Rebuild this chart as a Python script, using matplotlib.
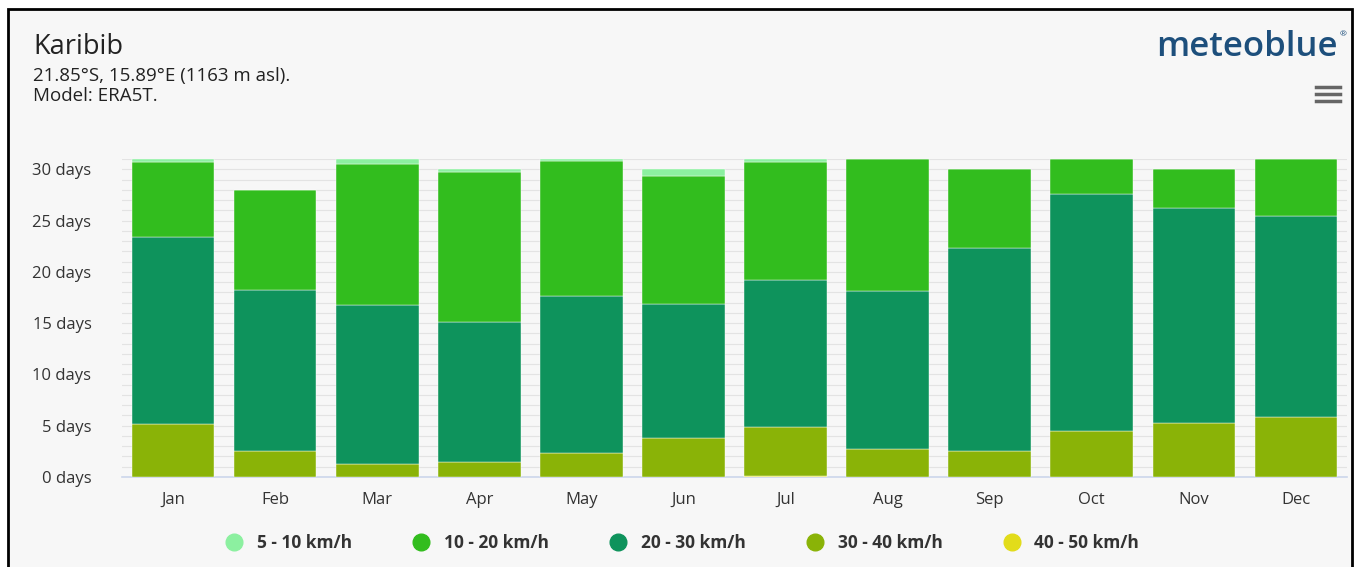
import numpy as np
import matplotlib.pyplot as plt
from matplotlib.patches import Rectangle
from matplotlib.lines import Line2D

plt.rcParams['font.family'] = ['Open Sans', 'DejaVu Sans']

months = ["Jan", "Feb", "Mar", "Apr", "May", "Jun",
          "Jul", "Aug", "Sep", "Oct", "Nov", "Dec"]

# days per month in each wind speed class (stacked bottom -> top)
kmh_40_50 = [0.0, 0.0, 0.0, 0.0, 0.0, 0.0, 0.1, 0.0, 0.0, 0.0, 0.0, 0.0]
kmh_30_40 = [5.2, 2.5, 1.25, 1.45, 2.3, 3.8, 4.8, 2.7, 2.5, 4.5, 5.25, 5.85]
kmh_20_30 = [18.2, 15.7, 15.5, 13.65, 15.3, 13.05, 14.3, 15.4, 19.8, 23.05, 20.95, 19.55]
kmh_10_20 = [7.3, 9.8, 13.75, 14.6, 13.2, 12.5, 11.5, 12.9, 7.7, 3.45, 3.8, 5.6]
kmh_5_10 = [0.3, 0.0, 0.5, 0.3, 0.2, 0.65, 0.3, 0.0, 0.0, 0.0, 0.0, 0.0]

series = [
    ("40 - 50 km/h", kmh_40_50, "#e2dc1a"),
    ("30 - 40 km/h", kmh_30_40, "#8ab307"),
    ("20 - 30 km/h", kmh_20_30, "#0e935c"),
    ("10 - 20 km/h", kmh_10_20, "#32bd1e"),
    ("5 - 10 km/h", kmh_5_10, "#8cf0a0"),
]

bg = "#f7f7f7"
fig = plt.figure(figsize=(13.56, 5.67), dpi=100, facecolor="white")
fig.patches.append(Rectangle((8 / 1356, -0.01), 1344 / 1356, 1 - 9 / 567 + 0.01,
                             transform=fig.transFigure, facecolor=bg,
                             edgecolor="black", linewidth=2, zorder=-10))

ax = fig.add_axes([122 / 1356, 1 - 477 / 567, (1347 - 122) / 1356, (477 - 159) / 567])
ax.set_facecolor(bg)
ax.patch.set_alpha(0)

x = np.arange(len(months))
bottom = np.zeros(len(months))
for label, vals, color in series:
    ax.bar(x, vals, bottom=bottom, width=0.81, color=color, edgecolor="white",
           linewidth=0.3, zorder=3)
    bottom += np.array(vals)

ax.set_xlim(-0.5, len(months) - 0.5)
ax.set_ylim(0, 31)
ax.set_yticks(range(0, 31, 5))
ax.set_yticklabels([f"{v} days" for v in range(0, 31, 5)])
ax.set_yticks(range(0, 32), minor=True)
ax.grid(axis="y", which="both", color="#e3e3e3", linewidth=0.8, zorder=0)
ax.set_xticks(x)
ax.set_xticklabels(months)
ax.tick_params(axis="both", which="both", length=0, labelsize=12, colors="#333333")
ax.tick_params(axis="x", pad=11)
ax.tick_params(axis="y", pad=22)
for s in ["top", "right", "left"]:
    ax.spines[s].set_visible(False)
ax.spines["bottom"].set_color("#ccd6eb")
ax.spines["bottom"].set_linewidth(1.2)

fig.text(33 / 1356, 1 - 47 / 567, "Karibib", fontsize=19.5, color="#222222", va="center")
fig.text(33 / 1356, 1 - 76 / 567, "21.85°S, 15.89°E (1163 m asl).", fontsize=13.5,
         color="#222222", va="center")
fig.text(33 / 1356, 1 - 96 / 567, "Model: ERA5T.", fontsize=13.5, color="#222222", va="center")
fig.text(1338 / 1356, 1 - 47 / 567, "meteoblue", fontsize=25, color="#1d4f7c",
         ha="right", va="center", fontweight="semibold")
fig.text(1343 / 1356, 1 - 35 / 567, "®", fontsize=6, color="#1d4f7c", ha="center", va="center")
for yy in (87, 94, 101):
    fig.add_artist(Line2D([1316 / 1356, 1340 / 1356], [1 - yy / 567, 1 - yy / 567],
                          color="#666666", linewidth=2.5))

handles = [Line2D([], [], marker="o", linestyle="", markersize=12, color=c)
           for _, _, c in series[::-1]]
labels = [l for l, _, _ in series[::-1]]
leg = fig.legend(handles, labels, loc="center", bbox_to_anchor=(0.5, 1 - 543 / 567),
                 ncol=5, frameon=False, handletextpad=0.3,
                 columnspacing=3.0, prop={"weight": "bold", "size": 12.5})
for t in leg.get_texts():
    t.set_color("#333333")

fig.savefig("out.png", dpi=100, facecolor="white")
